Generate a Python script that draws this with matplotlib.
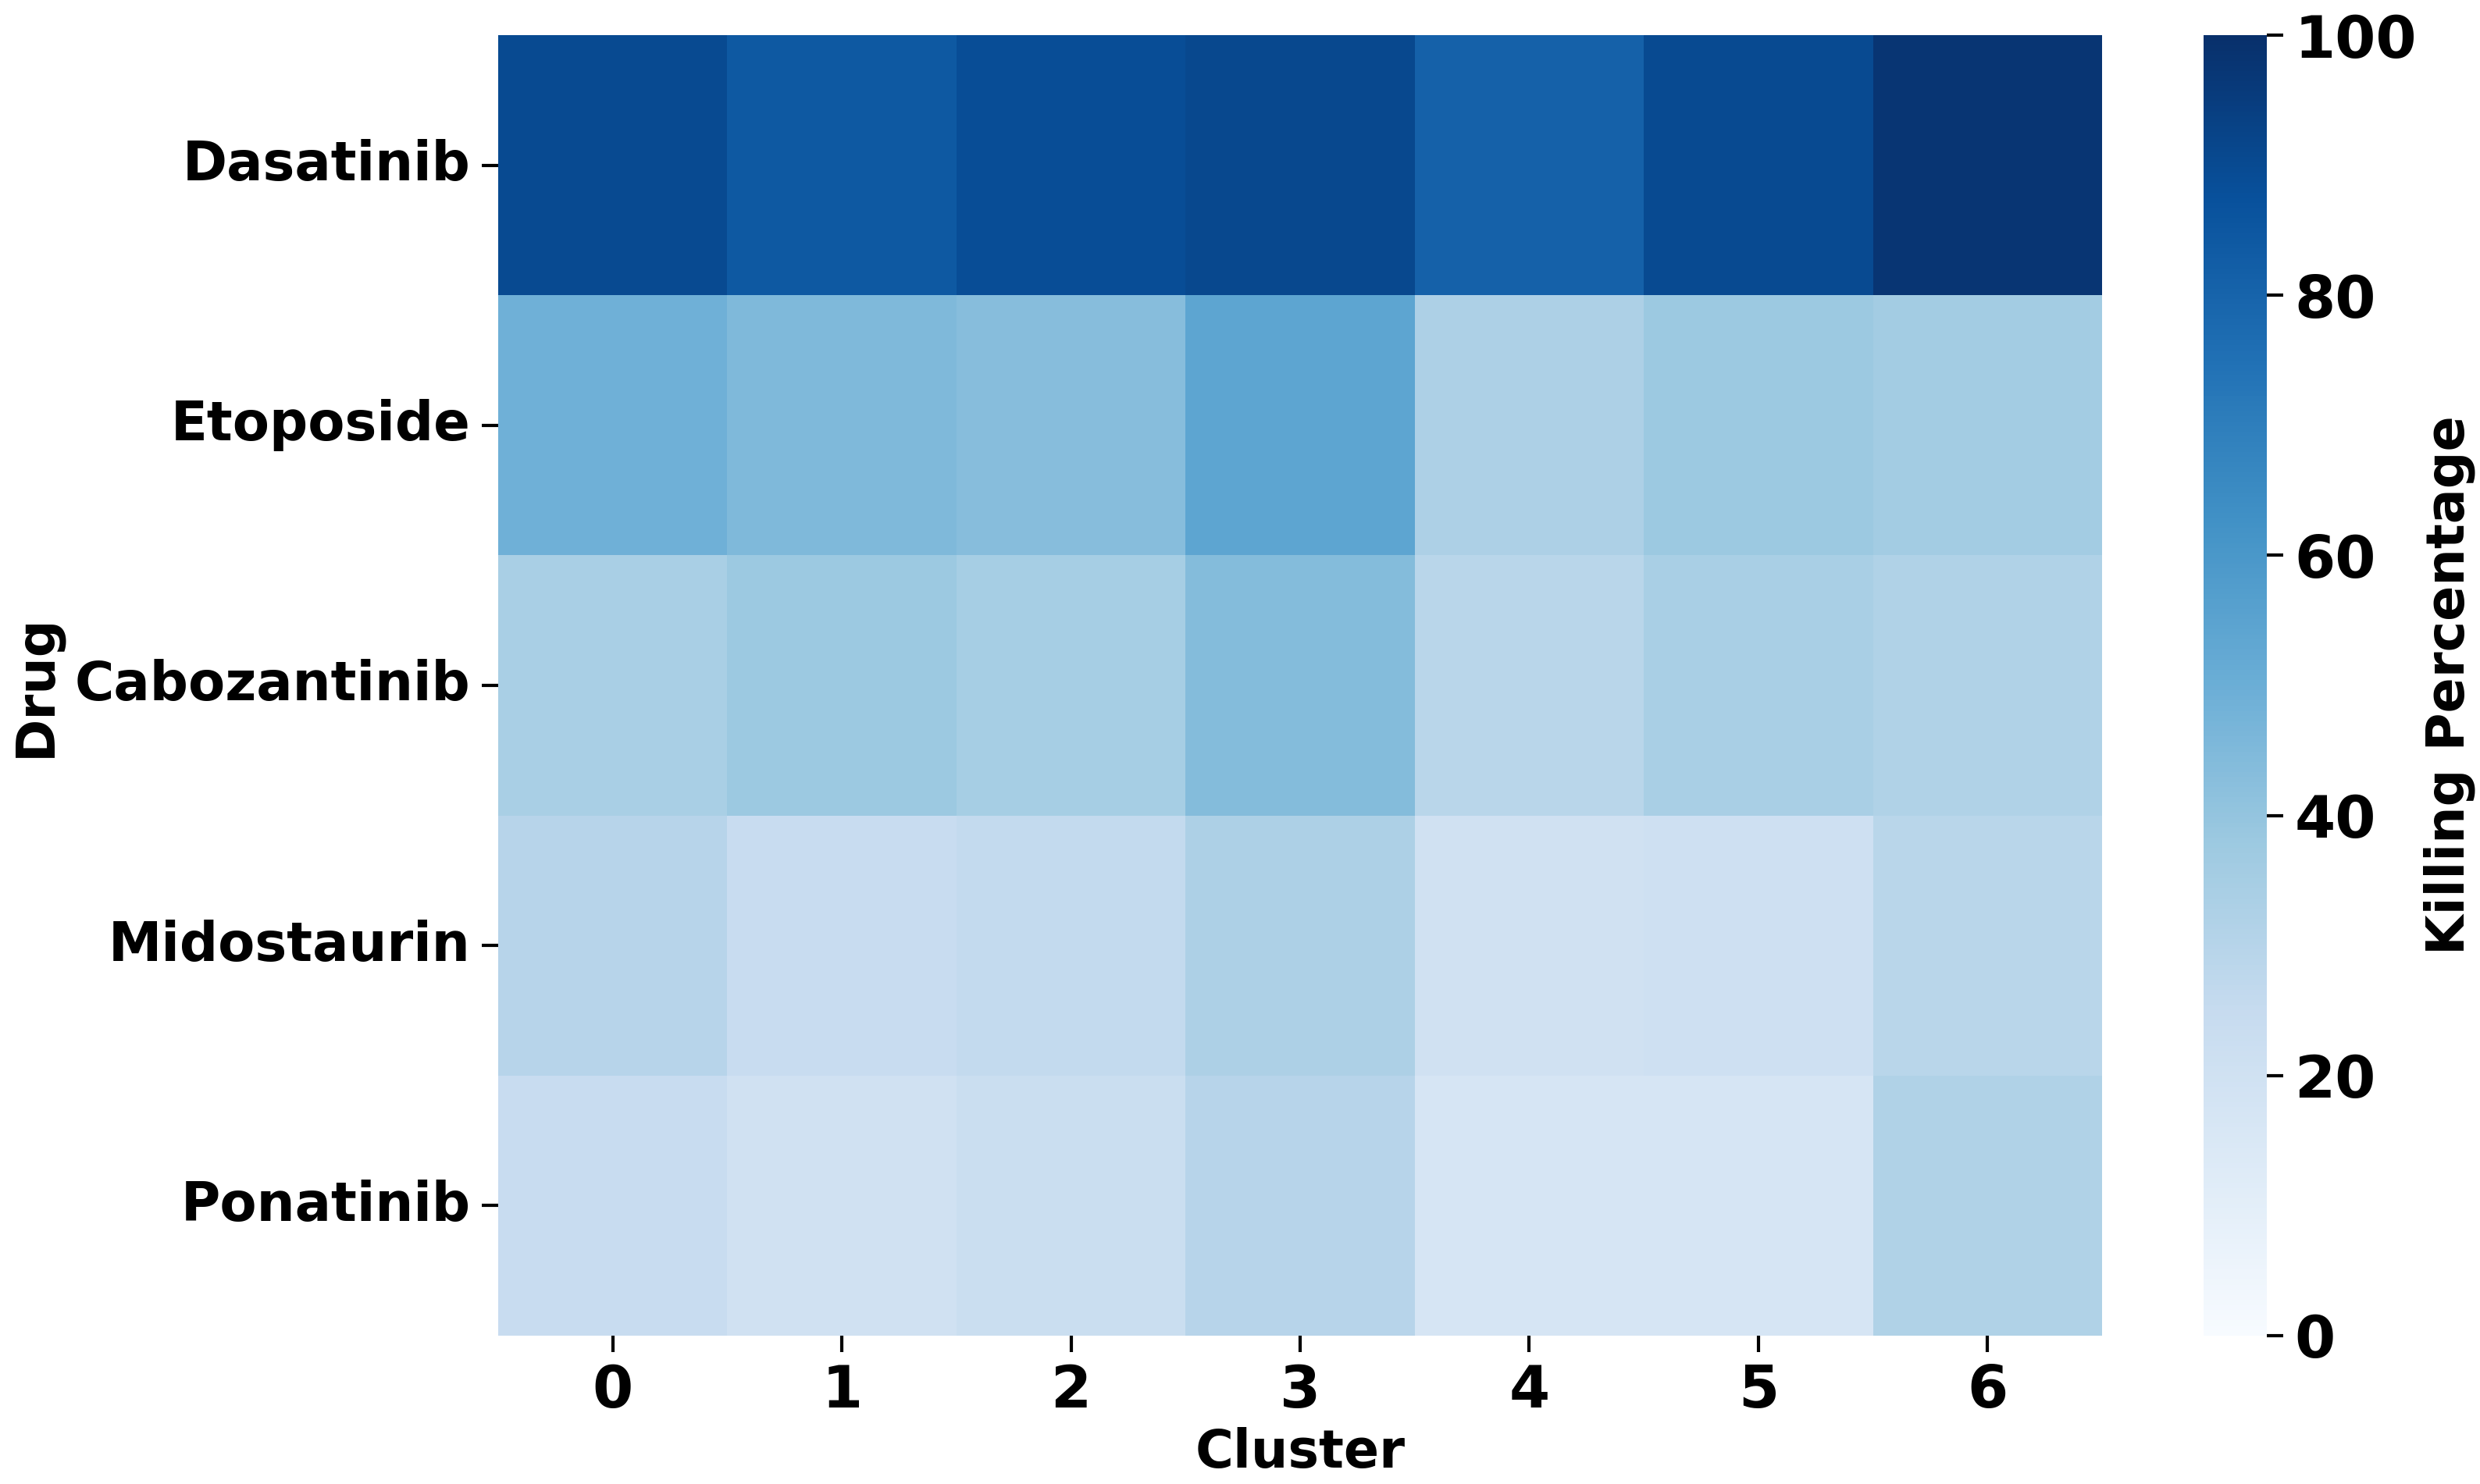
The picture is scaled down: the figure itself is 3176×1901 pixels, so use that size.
import matplotlib
matplotlib.use("Agg")
import matplotlib.pyplot as plt
import numpy as np
import pandas as pd
import seaborn as sns

drugs = ["Dasatinib", "Etoposide", "Cabozantinib", "Midostaurin", "Ponatinib"]
clusters = ["0", "1", "2", "3", "4", "5", "6"]
dasatinib = [90, 84, 89, 91, 81, 90, 98]
etoposide = [49, 45, 43, 54, 33, 38, 36]
cabozantinib = [34, 38, 35, 44, 29, 34, 32]
midostaurin = [30, 24, 26, 33, 20, 21, 29]
ponatinib = [24, 20, 23, 30, 17, 17, 32]

df = pd.DataFrame([dasatinib, etoposide, cabozantinib, midostaurin, ponatinib],
                  index=drugs, columns=clusters)

fig = plt.figure(figsize=(3176/300, 1901/300), dpi=300)
ax = fig.add_axes([0.2009, 0.1000, 0.6467, 0.8763])
cax = fig.add_axes([0.8885, 0.1000, 0.0255, 0.8763])

sns.heatmap(df, ax=ax, cbar_ax=cax, cmap="Blues", vmin=0, vmax=100,
            cbar_kws={"label": "Killing Percentage"})

ax.set_xlabel("Cluster", fontsize=16, fontweight="bold", labelpad=2)
ax.set_ylabel("Drug", fontsize=16, fontweight="bold", labelpad=4)
ax.tick_params(axis="x", labelsize=18, length=5, width=1)
ax.tick_params(axis="y", labelsize=16.5, length=5, width=1)
for t in ax.get_xticklabels():
    t.set_fontweight("bold")
for t in ax.get_yticklabels():
    t.set_fontweight("bold")
    t.set_rotation(0)

cax.tick_params(labelsize=18, length=5, width=1)
for t in cax.get_yticklabels():
    t.set_fontweight("bold")
cax.set_ylabel("Killing Percentage", fontsize=16, fontweight="bold", labelpad=2)
cax.set_yticks([0, 20, 40, 60, 80, 100])

fig.savefig("out.png", dpi=300)
